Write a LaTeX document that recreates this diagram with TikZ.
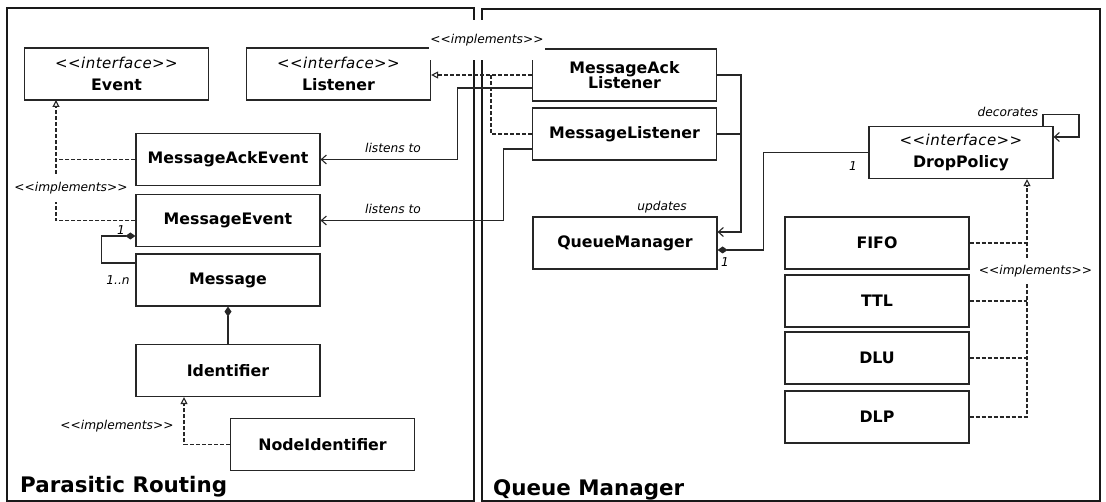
\documentclass[tikz,border=0pt]{standalone}
\usepackage{fontspec}
\setmainfont{DejaVu Sans}
\usetikzlibrary{arrows.meta,calc}
% type faces used in the diagram
\newcommand\clsfont{\fontsize{15.8}{15.5}\selectfont\bfseries}
\newcommand\stfont{\fontsize{12.2}{14}\selectfont\mdseries\itshape}
\newcommand\iffont{\fontsize{15}{16}\selectfont\mdseries\itshape\addfontfeature{LetterSpace=3}}
\newcommand\pkgfont{\fontsize{21.4}{24}\selectfont\bfseries}
\newcommand\stereo[1]{{\iffont <{}<#1>{}>}}
\begin{document}
\begin{tikzpicture}[x=1pt,y=-1pt,
  cls/.style={draw=black!85, line width=1.2pt, minimum width=184pt, minimum height=52pt,
              inner sep=0pt, align=center, font=\clsfont},
  lbl/.style={font=\stfont, inner sep=1pt},
  pkgframe/.style={draw=black!90, line width=2pt},
  conn/.style={draw=black!85, line width=1.1pt},
  impl/.style={conn, dash pattern=on 4pt off 2pt},
  opentip/.style={-{Straight Barb[length=5pt,width=9pt]}},
  realize/.style={-{Triangle[open,length=7pt,width=7pt]}},
  compose/.style={{Diamond[length=10pt,width=7pt]}-},
]
\useasboundingbox[fill=white] (0,0) rectangle (1106,502);

% package frames
\draw[pkgframe] (7,8) rectangle (474,501);
\draw[pkgframe] (482,9) rectangle (1100,501);
\node[anchor=base west, font=\pkgfont, inner sep=0pt] (prtitle) at (20,493) {Parasitic Routing};
\node[anchor=base west, font=\pkgfont, inner sep=0pt] (qmtitle) at (493,495) {Queue Manager};

% classes: Parasitic Routing
\node[cls] (event)    at (116.5,74)  {\stereo{interface}\\[6pt]Event};
\node[cls] (listener) at (338.5,74)  {\stereo{interface}\\[6pt]Listener};
\node[cls] (ackevent) at (228,159.5) {MessageAckEvent};
\node[cls] (msgevent) at (228,220.5) {MessageEvent};
\node[cls] (message)  at (228,280)   {Message};
\node[cls] (ident)    at (228,370.5) {Identifier};
\node[cls] (nodeid)   at (322.5,444.5) {NodeIdentifier};

% classes: Queue Manager
\node[cls] (acklst)   at (624.5,75)  {MessageAck\\Listener};
\node[cls] (msglst)   at (624.5,134) {MessageListener};
\node[cls] (qmgr)     at (625,243)   {QueueManager};
\node[cls] (drop)     at (961,152.5) {\stereo{interface}\\[6pt]DropPolicy};
\node[cls] (fifo)     at (877,243)   {FIFO};
\node[cls] (ttl)      at (877,301)   {TTL};
\node[cls] (dlu)      at (877,358)   {DLU};
\node[cls] (dlp)      at (877,417)   {DLP};

% junction points of the shared connectors
\coordinate (evx)  at (56,100);
\coordinate (lsx)  at (491,75);
\coordinate (upx)  at (741,75);
\coordinate (dpx)  at ([xshift=66pt]drop.south);

% realizations
\draw[impl, realize] (msgevent.west) -| (evx);
\draw[impl] (ackevent.west) -- (ackevent.west -| evx);
\draw[impl, realize] (acklst.west) -- (acklst.west -| listener.east);
\draw[impl] (msglst.west) -| (lsx);
\draw[impl, realize] (nodeid.west) -| ([xshift=-44pt]ident.south);
\draw[impl, realize] (dlp.east) -| (dpx);
\draw[impl] (fifo.east) -- (fifo.east -| dpx);
\draw[impl] (ttl.east) -- (ttl.east -| dpx);
\draw[impl] (dlu.east) -- (dlu.east -| dpx);

% associations
\draw[conn, opentip] ([yshift=-13pt]acklst.west) -| ([xshift=137pt]ackevent.east) -- (ackevent.east);
\draw[conn, opentip] ([yshift=-15pt]msglst.west) -| ([xshift=183pt]msgevent.east) -- (msgevent.east);
\draw[conn, opentip] (acklst.east) -- (upx) |- ([yshift=11pt]qmgr.east);
\draw[conn] (msglst.east) -- (msglst.east -| upx);
\draw[conn, opentip] ([xshift=82pt]drop.north) -- ++(0,-11) -- ++(36,0) |- ([yshift=15.5pt]drop.east);

% compositions
\draw[conn, compose] ([yshift=-15.5pt]msgevent.west) -- ++(-34,0) |- ([yshift=17pt]message.west);
\draw[conn, compose] (message.south) -- (ident.north);
\draw[conn, compose] ([yshift=-7pt]qmgr.east) -- ++(46,0) |- (drop.west);

% connector labels
\node[lbl, fill=white, inner ysep=8pt] (implA) at (71,188)  {<{}<implements>{}>};
\node[lbl, fill=white, inner ysep=14pt] (implB) at (487,40) {<{}<implements>{}>};
\node[lbl] (implC) at (117,426) {<{}<implements>{}>};
\node[lbl, fill=white, inner ysep=7pt] (implD) at (1035.5,271) {<{}<implements>{}>};
\node[lbl] (lsA) at (393,148) {listens to};
\node[lbl] (lsB) at (393,209) {listens to};
\node[lbl] (upd) at (662,207) {updates};
\node[lbl] (dec) at (1008,112) {decorates};
\node[lbl] (m1)  at (121,230) {1};
\node[lbl] (m1n) at (118,280) {1..n};
\node[lbl] (m2)  at (725,262) {1};
\node[lbl] (m3)  at (853,166) {1};
\end{tikzpicture}
\end{document}
